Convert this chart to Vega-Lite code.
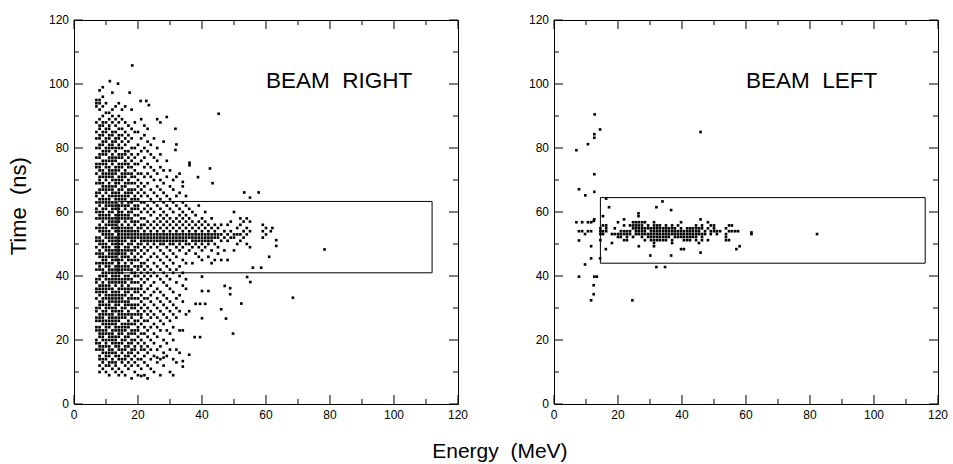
{"$schema":"https://vega.github.io/schema/vega-lite/v6.json",
"padding":{"left":7,"top":13,"right":5,"bottom":3},
"background":"white",
"config":{"view":{"stroke":"black","strokeWidth":1},"font":"Liberation Sans","rule":{"color":"black","strokeWidth":1},"text":{"color":"black","font":"Liberation Sans"}},
"datasets":{
"maj":[{"v":0},{"v":20},{"v":40},{"v":60},{"v":80},{"v":100},{"v":120}],
"mnr":[{"v":10},{"v":30},{"v":50},{"v":70},{"v":90},{"v":110}],
"br":[
{"e":7,"t":17},{"e":7,"t":19},{"e":7,"t":20},{"e":7,"t":23},{"e":7,"t":24},{"e":7,"t":26},{"e":7,"t":27},{"e":7,"t":29},{"e":7,"t":30},{"e":7,"t":33},{"e":7,"t":35},{"e":7,"t":36},{"e":7,"t":38},{"e":7,"t":39},{"e":7,"t":42},{"e":7,"t":44},{"e":7,"t":47},{"e":7,"t":49},{"e":7,"t":51},{"e":7,"t":52},{"e":7,"t":55},{"e":7,"t":58},{"e":7,"t":60},{"e":7,"t":61},{"e":7,"t":63},{"e":7,"t":65},{"e":7,"t":66},{"e":7,"t":69},{"e":7,"t":72},{"e":7,"t":74},{"e":7,"t":75},{"e":7,"t":77},{"e":7,"t":80},{"e":7,"t":83},{"e":7,"t":85},{"e":7,"t":88},{"e":7,"t":93},{"e":7,"t":94},{"e":7,"t":95},
{"e":8,"t":10},{"e":8,"t":12},{"e":8,"t":14},{"e":8,"t":15},{"e":8,"t":17},{"e":8,"t":18},{"e":8,"t":19},{"e":8,"t":21},{"e":8,"t":22},{"e":8,"t":23},{"e":8,"t":24},{"e":8,"t":26},{"e":8,"t":27},{"e":8,"t":28},{"e":8,"t":30},{"e":8,"t":31},{"e":8,"t":32},{"e":8,"t":34},{"e":8,"t":35},{"e":8,"t":36},{"e":8,"t":37},{"e":8,"t":39},{"e":8,"t":40},{"e":8,"t":42},{"e":8,"t":43},{"e":8,"t":44},{"e":8,"t":46},{"e":8,"t":47},{"e":8,"t":48},{"e":8,"t":50},{"e":8,"t":51},{"e":8,"t":52},{"e":8,"t":54},{"e":8,"t":55},{"e":8,"t":56},{"e":8,"t":58},{"e":8,"t":59},{"e":8,"t":60},{"e":8,"t":62},{"e":8,"t":63},{"e":8,"t":64},{"e":8,"t":66},{"e":8,"t":67},{"e":8,"t":69},{"e":8,"t":70},{"e":8,"t":71},{"e":8,"t":73},{"e":8,"t":74},{"e":8,"t":75},{"e":8,"t":77},{"e":8,"t":78},{"e":8,"t":80},{"e":8,"t":81},{"e":8,"t":83},{"e":8,"t":84},{"e":8,"t":86},{"e":8,"t":87},{"e":8,"t":89},{"e":8,"t":92},{"e":8,"t":94},{"e":8,"t":95},{"e":8,"t":98},
{"e":9,"t":11},{"e":9,"t":13},{"e":9,"t":14},{"e":9,"t":16},{"e":9,"t":17},{"e":9,"t":18},{"e":9,"t":20},{"e":9,"t":21},{"e":9,"t":22},{"e":9,"t":23},{"e":9,"t":25},{"e":9,"t":26},{"e":9,"t":27},{"e":9,"t":28},{"e":9,"t":29},{"e":9,"t":31},{"e":9,"t":32},{"e":9,"t":33},{"e":9,"t":35},{"e":9,"t":36},{"e":9,"t":37},{"e":9,"t":38},{"e":9,"t":40},{"e":9,"t":41},{"e":9,"t":42},{"e":9,"t":44},{"e":9,"t":45},{"e":9,"t":46},{"e":9,"t":47},{"e":9,"t":49},{"e":9,"t":50},{"e":9,"t":51},{"e":9,"t":53},{"e":9,"t":54},{"e":9,"t":55},{"e":9,"t":57},{"e":9,"t":58},{"e":9,"t":59},{"e":9,"t":60},{"e":9,"t":61},{"e":9,"t":63},{"e":9,"t":64},{"e":9,"t":65},{"e":9,"t":67},{"e":9,"t":68},{"e":9,"t":69},{"e":9,"t":71},{"e":9,"t":72},{"e":9,"t":73},{"e":9,"t":75},{"e":9,"t":76},{"e":9,"t":78},{"e":9,"t":79},{"e":9,"t":81},{"e":9,"t":82},{"e":9,"t":84},{"e":9,"t":85},{"e":9,"t":87},{"e":9,"t":88},{"e":9,"t":90},{"e":9,"t":93},{"e":9,"t":96},{"e":9,"t":99},
{"e":10,"t":10},{"e":10,"t":12},{"e":10,"t":14},{"e":10,"t":15},{"e":10,"t":16},{"e":10,"t":18},{"e":10,"t":19},{"e":10,"t":20},{"e":10,"t":22},{"e":10,"t":23},{"e":10,"t":24},{"e":10,"t":25},{"e":10,"t":26},{"e":10,"t":28},{"e":10,"t":29},{"e":10,"t":30},{"e":10,"t":31},{"e":10,"t":33},{"e":10,"t":34},{"e":10,"t":35},{"e":10,"t":36},{"e":10,"t":37},{"e":10,"t":39},{"e":10,"t":40},{"e":10,"t":41},{"e":10,"t":43},{"e":10,"t":44},{"e":10,"t":45},{"e":10,"t":46},{"e":10,"t":48},{"e":10,"t":49},{"e":10,"t":50},{"e":10,"t":52},{"e":10,"t":53},{"e":10,"t":54},{"e":10,"t":55},{"e":10,"t":56},{"e":10,"t":58},{"e":10,"t":59},{"e":10,"t":61},{"e":10,"t":62},{"e":10,"t":63},{"e":10,"t":64},{"e":10,"t":66},{"e":10,"t":67},{"e":10,"t":68},{"e":10,"t":70},{"e":10,"t":71},{"e":10,"t":72},{"e":10,"t":74},{"e":10,"t":75},{"e":10,"t":76},{"e":10,"t":78},{"e":10,"t":79},{"e":10,"t":80},{"e":10,"t":82},{"e":10,"t":83},{"e":10,"t":85},{"e":10,"t":86},{"e":10,"t":88},{"e":10,"t":91},{"e":10,"t":94},
{"e":11,"t":9},{"e":11,"t":12},{"e":11,"t":13},{"e":11,"t":15},{"e":11,"t":16},{"e":11,"t":17},{"e":11,"t":18},{"e":11,"t":20},{"e":11,"t":21},{"e":11,"t":22},{"e":11,"t":24},{"e":11,"t":25},{"e":11,"t":26},{"e":11,"t":27},{"e":11,"t":28},{"e":11,"t":30},{"e":11,"t":31},{"e":11,"t":32},{"e":11,"t":33},{"e":11,"t":34},{"e":11,"t":36},{"e":11,"t":37},{"e":11,"t":38},{"e":11,"t":39},{"e":11,"t":41},{"e":11,"t":42},{"e":11,"t":43},{"e":11,"t":44},{"e":11,"t":46},{"e":11,"t":47},{"e":11,"t":48},{"e":11,"t":49},{"e":11,"t":51},{"e":11,"t":52},{"e":11,"t":53},{"e":11,"t":54},{"e":11,"t":56},{"e":11,"t":57},{"e":11,"t":58},{"e":11,"t":59},{"e":11,"t":60},{"e":11,"t":62},{"e":11,"t":63},{"e":11,"t":64},{"e":11,"t":65},{"e":11,"t":67},{"e":11,"t":68},{"e":11,"t":69},{"e":11,"t":71},{"e":11,"t":72},{"e":11,"t":73},{"e":11,"t":74},{"e":11,"t":76},{"e":11,"t":77},{"e":11,"t":79},{"e":11,"t":80},{"e":11,"t":81},{"e":11,"t":83},{"e":11,"t":84},{"e":11,"t":86},{"e":11,"t":87},{"e":11,"t":89},{"e":11,"t":91},{"e":11.2,"t":100.9},
{"e":12,"t":11},{"e":12,"t":13},{"e":12,"t":14},{"e":12,"t":16},{"e":12,"t":17},{"e":12,"t":19},{"e":12,"t":20},{"e":12,"t":21},{"e":12,"t":22},{"e":12,"t":23},{"e":12,"t":25},{"e":12,"t":26},{"e":12,"t":27},{"e":12,"t":28},{"e":12,"t":29},{"e":12,"t":30},{"e":12,"t":32},{"e":12,"t":33},{"e":12,"t":34},{"e":12,"t":35},{"e":12,"t":36},{"e":12,"t":38},{"e":12,"t":39},{"e":12,"t":40},{"e":12,"t":41},{"e":12,"t":42},{"e":12,"t":44},{"e":12,"t":45},{"e":12,"t":46},{"e":12,"t":47},{"e":12,"t":48},{"e":12,"t":50},{"e":12,"t":51},{"e":12,"t":52},{"e":12,"t":53},{"e":12,"t":55},{"e":12,"t":56},{"e":12,"t":57},{"e":12,"t":58},{"e":12,"t":60},{"e":12,"t":61},{"e":12,"t":62},{"e":12,"t":63},{"e":12,"t":65},{"e":12,"t":66},{"e":12,"t":67},{"e":12,"t":68},{"e":12,"t":70},{"e":12,"t":71},{"e":12,"t":72},{"e":12,"t":73},{"e":12,"t":75},{"e":12,"t":76},{"e":12,"t":77},{"e":12,"t":78},{"e":12,"t":80},{"e":12,"t":81},{"e":12,"t":82},{"e":12,"t":84},{"e":12,"t":85},{"e":12,"t":88},{"e":12,"t":90},{"e":12,"t":92},{"e":12,"t":97.3},
{"e":13,"t":10},{"e":13,"t":12},{"e":13,"t":13},{"e":13,"t":15},{"e":13,"t":16},{"e":13,"t":18},{"e":13,"t":19},{"e":13,"t":20},{"e":13,"t":21},{"e":13,"t":23},{"e":13,"t":24},{"e":13,"t":25},{"e":13,"t":26},{"e":13,"t":27},{"e":13,"t":29},{"e":13,"t":30},{"e":13,"t":31},{"e":13,"t":32},{"e":13,"t":33},{"e":13,"t":34},{"e":13,"t":35},{"e":13,"t":37},{"e":13,"t":38},{"e":13,"t":39},{"e":13,"t":40},{"e":13,"t":41},{"e":13,"t":42},{"e":13,"t":43},{"e":13,"t":45},{"e":13,"t":46},{"e":13,"t":47},{"e":13,"t":48},{"e":13,"t":49},{"e":13,"t":50},{"e":13,"t":51},{"e":13,"t":52},{"e":13,"t":54},{"e":13,"t":55},{"e":13,"t":56},{"e":13,"t":57},{"e":13,"t":58},{"e":13,"t":59},{"e":13,"t":61},{"e":13,"t":62},{"e":13,"t":63},{"e":13,"t":64},{"e":13,"t":65},{"e":13,"t":66},{"e":13,"t":68},{"e":13,"t":69},{"e":13,"t":70},{"e":13,"t":72},{"e":13,"t":73},{"e":13,"t":74},{"e":13,"t":76},{"e":13,"t":77},{"e":13,"t":79},{"e":13,"t":80},{"e":13,"t":82},{"e":13,"t":83},{"e":13,"t":85},{"e":13,"t":87},{"e":13,"t":89},{"e":13,"t":93},{"e":13.75,"t":100.1},
{"e":14,"t":9},{"e":14,"t":11},{"e":14,"t":14},{"e":14,"t":15},{"e":14,"t":17},{"e":14,"t":18},{"e":14,"t":19},{"e":14,"t":21},{"e":14,"t":22},{"e":14,"t":23},{"e":14,"t":24},{"e":14,"t":26},{"e":14,"t":27},{"e":14,"t":28},{"e":14,"t":29},{"e":14,"t":31},{"e":14,"t":32},{"e":14,"t":33},{"e":14,"t":34},{"e":14,"t":35},{"e":14,"t":36},{"e":14,"t":38},{"e":14,"t":39},{"e":14,"t":40},{"e":14,"t":41},{"e":14,"t":42},{"e":14,"t":43},{"e":14,"t":44},{"e":14,"t":45},{"e":14,"t":47},{"e":14,"t":48},{"e":14,"t":49},{"e":14,"t":50},{"e":14,"t":51},{"e":14,"t":52},{"e":14,"t":53},{"e":14,"t":54},{"e":14,"t":55},{"e":14,"t":57},{"e":14,"t":58},{"e":14,"t":59},{"e":14,"t":60},{"e":14,"t":61},{"e":14,"t":62},{"e":14,"t":64},{"e":14,"t":65},{"e":14,"t":66},{"e":14,"t":67},{"e":14,"t":69},{"e":14,"t":70},{"e":14,"t":71},{"e":14,"t":73},{"e":14,"t":74},{"e":14,"t":75},{"e":14,"t":77},{"e":14,"t":78},{"e":14,"t":80},{"e":14,"t":81},{"e":14,"t":83},{"e":14,"t":84},{"e":14,"t":86},{"e":14,"t":88},{"e":14,"t":90},{"e":14,"t":94},
{"e":15,"t":10},{"e":15,"t":13},{"e":15,"t":14},{"e":15,"t":16},{"e":15,"t":17},{"e":15,"t":19},{"e":15,"t":20},{"e":15,"t":22},{"e":15,"t":23},{"e":15,"t":24},{"e":15,"t":25},{"e":15,"t":27},{"e":15,"t":28},{"e":15,"t":29},{"e":15,"t":30},{"e":15,"t":32},{"e":15,"t":33},{"e":15,"t":34},{"e":15,"t":36},{"e":15,"t":37},{"e":15,"t":38},{"e":15,"t":39},{"e":15,"t":41},{"e":15,"t":42},{"e":15,"t":43},{"e":15,"t":45},{"e":15,"t":46},{"e":15,"t":47},{"e":15,"t":48},{"e":15,"t":50},{"e":15,"t":51},{"e":15,"t":52},{"e":15,"t":53},{"e":15,"t":54},{"e":15,"t":55},{"e":15,"t":56},{"e":15,"t":58},{"e":15,"t":59},{"e":15,"t":60},{"e":15,"t":62},{"e":15,"t":63},{"e":15,"t":64},{"e":15,"t":65},{"e":15,"t":67},{"e":15,"t":68},{"e":15,"t":70},{"e":15,"t":71},{"e":15,"t":72},{"e":15,"t":74},{"e":15,"t":75},{"e":15,"t":77},{"e":15,"t":78},{"e":15,"t":80},{"e":15,"t":82},{"e":15,"t":84},{"e":15,"t":86},{"e":15,"t":89},{"e":15,"t":92},
{"e":16,"t":9},{"e":16,"t":12},{"e":16,"t":14},{"e":16,"t":15},{"e":16,"t":17},{"e":16,"t":18},{"e":16,"t":20},{"e":16,"t":21},{"e":16,"t":23},{"e":16,"t":24},{"e":16,"t":25},{"e":16,"t":27},{"e":16,"t":28},{"e":16,"t":30},{"e":16,"t":31},{"e":16,"t":32},{"e":16,"t":34},{"e":16,"t":35},{"e":16,"t":36},{"e":16,"t":38},{"e":16,"t":39},{"e":16,"t":40},{"e":16,"t":42},{"e":16,"t":43},{"e":16,"t":44},{"e":16,"t":46},{"e":16,"t":47},{"e":16,"t":48},{"e":16,"t":49},{"e":16,"t":51},{"e":16,"t":52},{"e":16,"t":53},{"e":16,"t":54},{"e":16,"t":55},{"e":16,"t":57},{"e":16,"t":58},{"e":16,"t":59},{"e":16,"t":61},{"e":16,"t":62},{"e":16,"t":64},{"e":16,"t":65},{"e":16,"t":66},{"e":16,"t":68},{"e":16,"t":69},{"e":16,"t":71},{"e":16,"t":72},{"e":16,"t":73},{"e":16,"t":75},{"e":16,"t":76},{"e":16,"t":78},{"e":16,"t":79},{"e":16,"t":81},{"e":16,"t":83},{"e":16,"t":85},{"e":16,"t":88},{"e":16,"t":93},
{"e":17,"t":11},{"e":17,"t":13},{"e":17,"t":15},{"e":17,"t":16},{"e":17,"t":18},{"e":17,"t":19},{"e":17,"t":21},{"e":17,"t":22},{"e":17,"t":24},{"e":17,"t":25},{"e":17,"t":26},{"e":17,"t":28},{"e":17,"t":29},{"e":17,"t":31},{"e":17,"t":32},{"e":17,"t":33},{"e":17,"t":35},{"e":17,"t":36},{"e":17,"t":37},{"e":17,"t":39},{"e":17,"t":40},{"e":17,"t":42},{"e":17,"t":43},{"e":17,"t":45},{"e":17,"t":46},{"e":17,"t":48},{"e":17,"t":49},{"e":17,"t":50},{"e":17,"t":52},{"e":17,"t":53},{"e":17,"t":54},{"e":17,"t":55},{"e":17,"t":56},{"e":17,"t":58},{"e":17,"t":59},{"e":17,"t":60},{"e":17,"t":62},{"e":17,"t":63},{"e":17,"t":65},{"e":17,"t":66},{"e":17,"t":67},{"e":17,"t":69},{"e":17,"t":70},{"e":17,"t":72},{"e":17,"t":74},{"e":17,"t":75},{"e":17,"t":77},{"e":17,"t":79},{"e":17,"t":82},{"e":17,"t":84},{"e":17,"t":87},{"e":17.4,"t":97.3},
{"e":18,"t":8},{"e":18,"t":12},{"e":18,"t":14},{"e":18,"t":16},{"e":18,"t":17},{"e":18,"t":19},{"e":18,"t":20},{"e":18,"t":22},{"e":18,"t":23},{"e":18,"t":25},{"e":18,"t":27},{"e":18,"t":28},{"e":18,"t":30},{"e":18,"t":31},{"e":18,"t":33},{"e":18,"t":34},{"e":18,"t":36},{"e":18,"t":38},{"e":18,"t":39},{"e":18,"t":41},{"e":18,"t":42},{"e":18,"t":44},{"e":18,"t":45},{"e":18,"t":47},{"e":18,"t":48},{"e":18,"t":50},{"e":18,"t":51},{"e":18,"t":52},{"e":18,"t":53},{"e":18,"t":54},{"e":18,"t":55},{"e":18,"t":57},{"e":18,"t":58},{"e":18,"t":60},{"e":18,"t":61},{"e":18,"t":63},{"e":18,"t":64},{"e":18,"t":66},{"e":18,"t":67},{"e":18,"t":69},{"e":18,"t":71},{"e":18,"t":72},{"e":18,"t":74},{"e":18,"t":76},{"e":18,"t":78},{"e":18,"t":80},{"e":18,"t":83},{"e":18,"t":86},{"e":18,"t":92},{"e":18.2,"t":105.8},
{"e":19,"t":10},{"e":19,"t":13},{"e":19,"t":15},{"e":19,"t":17},{"e":19,"t":18},{"e":19,"t":20},{"e":19,"t":22},{"e":19,"t":23},{"e":19,"t":25},{"e":19,"t":26},{"e":19,"t":28},{"e":19,"t":30},{"e":19,"t":31},{"e":19,"t":33},{"e":19,"t":35},{"e":19,"t":36},{"e":19,"t":38},{"e":19,"t":40},{"e":19,"t":41},{"e":19,"t":43},{"e":19,"t":45},{"e":19,"t":46},{"e":19,"t":48},{"e":19,"t":49},{"e":19,"t":51},{"e":19,"t":52},{"e":19,"t":53},{"e":19,"t":54},{"e":19,"t":56},{"e":19,"t":57},{"e":19,"t":59},{"e":19,"t":61},{"e":19,"t":62},{"e":19,"t":64},{"e":19,"t":65},{"e":19,"t":67},{"e":19,"t":69},{"e":19,"t":71},{"e":19,"t":73},{"e":19,"t":75},{"e":19,"t":77},{"e":19,"t":80},{"e":19,"t":85},{"e":19,"t":88},
{"e":20,"t":9},{"e":20,"t":12},{"e":20,"t":14},{"e":20,"t":16},{"e":20,"t":19},{"e":20,"t":21},{"e":20,"t":23},{"e":20,"t":24},{"e":20,"t":26},{"e":20,"t":28},{"e":20,"t":29},{"e":20,"t":31},{"e":20,"t":33},{"e":20,"t":35},{"e":20,"t":36},{"e":20,"t":38},{"e":20,"t":40},{"e":20,"t":42},{"e":20,"t":43},{"e":20,"t":45},{"e":20,"t":47},{"e":20,"t":49},{"e":20,"t":50},{"e":20,"t":52},{"e":20,"t":53},{"e":20,"t":54},{"e":20,"t":55},{"e":20,"t":57},{"e":20,"t":59},{"e":20,"t":61},{"e":20,"t":62},{"e":20,"t":64},{"e":20,"t":66},{"e":20,"t":68},{"e":20,"t":70},{"e":20,"t":72},{"e":20,"t":75},{"e":20,"t":78},{"e":20,"t":81},{"e":20,"t":85},{"e":20.8,"t":94.7},
{"e":21,"t":11},{"e":21,"t":14},{"e":21,"t":17},{"e":21,"t":18},{"e":21,"t":20},{"e":21,"t":22},{"e":21,"t":25},{"e":21,"t":27},{"e":21,"t":28},{"e":21,"t":30},{"e":21,"t":32},{"e":21,"t":34},{"e":21,"t":36},{"e":21,"t":37},{"e":21,"t":39},{"e":21,"t":41},{"e":21,"t":43},{"e":21,"t":44},{"e":21,"t":46},{"e":21,"t":48},{"e":21,"t":50},{"e":21,"t":51},{"e":21,"t":52},{"e":21,"t":53},{"e":21,"t":55},{"e":21,"t":56},{"e":21,"t":58},{"e":21,"t":60},{"e":21,"t":63},{"e":21,"t":65},{"e":21,"t":67},{"e":21,"t":69},{"e":21,"t":72},{"e":21,"t":76},{"e":21,"t":79},{"e":21,"t":83},{"e":21,"t":89},{"e":21,"t":8.75},
{"e":22,"t":9},{"e":22,"t":13},{"e":22,"t":15},{"e":22,"t":17},{"e":22,"t":19},{"e":22,"t":22},{"e":22,"t":24},{"e":22,"t":26},{"e":22,"t":29},{"e":22,"t":31},{"e":22,"t":33},{"e":22,"t":35},{"e":22,"t":38},{"e":22,"t":40},{"e":22,"t":42},{"e":22,"t":44},{"e":22,"t":47},{"e":22,"t":49},{"e":22,"t":51},{"e":22,"t":52},{"e":22,"t":53},{"e":22,"t":54},{"e":22,"t":56},{"e":22,"t":58},{"e":22,"t":61},{"e":22,"t":63},{"e":22,"t":66},{"e":22,"t":68},{"e":22,"t":71},{"e":22,"t":74},{"e":22,"t":77},{"e":22,"t":80},{"e":22,"t":84},{"e":22,"t":87},{"e":22.6,"t":94.7},
{"e":23,"t":8},{"e":23,"t":12},{"e":23,"t":16},{"e":23,"t":18},{"e":23,"t":21},{"e":23,"t":23},{"e":23,"t":26},{"e":23,"t":28},{"e":23,"t":30},{"e":23,"t":33},{"e":23,"t":36},{"e":23,"t":39},{"e":23,"t":41},{"e":23,"t":43},{"e":23,"t":45},{"e":23,"t":48},{"e":23,"t":50},{"e":23,"t":51},{"e":23,"t":52},{"e":23,"t":53},{"e":23,"t":55},{"e":23,"t":57},{"e":23,"t":60},{"e":23,"t":62},{"e":23,"t":65},{"e":23,"t":69},{"e":23,"t":72},{"e":23,"t":75},{"e":23,"t":79},{"e":23,"t":82},{"e":23,"t":86},{"e":23.4,"t":93.4},
{"e":24,"t":11},{"e":24,"t":14},{"e":24,"t":17},{"e":24,"t":20},{"e":24,"t":24},{"e":24,"t":27},{"e":24,"t":29},{"e":24,"t":32},{"e":24,"t":34},{"e":24,"t":37},{"e":24,"t":40},{"e":24,"t":42},{"e":24,"t":46},{"e":24,"t":49},{"e":24,"t":51},{"e":24,"t":52},{"e":24,"t":53},{"e":24,"t":54},{"e":24,"t":56},{"e":24,"t":59},{"e":24,"t":61},{"e":24,"t":64},{"e":24,"t":67},{"e":24,"t":71},{"e":24,"t":74},{"e":24,"t":78},{"e":24,"t":81},
{"e":25,"t":10},{"e":25,"t":15},{"e":25,"t":19},{"e":25,"t":22},{"e":25,"t":25},{"e":25,"t":28},{"e":25,"t":31},{"e":25,"t":35},{"e":25,"t":38},{"e":25,"t":41},{"e":25,"t":44},{"e":25,"t":47},{"e":25,"t":50},{"e":25,"t":51},{"e":25,"t":52},{"e":25,"t":53},{"e":25,"t":55},{"e":25,"t":57},{"e":25,"t":60},{"e":25,"t":63},{"e":25,"t":66},{"e":25,"t":70},{"e":25,"t":73},{"e":25,"t":77},{"e":25,"t":83},
{"e":26,"t":13},{"e":26,"t":17},{"e":26,"t":21},{"e":26,"t":24},{"e":26,"t":27},{"e":26,"t":30},{"e":26,"t":33},{"e":26,"t":36},{"e":26,"t":40},{"e":26,"t":43},{"e":26,"t":46},{"e":26,"t":49},{"e":26,"t":51},{"e":26,"t":52},{"e":26,"t":53},{"e":26,"t":54},{"e":26,"t":56},{"e":26,"t":58},{"e":26,"t":62},{"e":26,"t":65},{"e":26,"t":68},{"e":26,"t":72},{"e":26,"t":76},{"e":26,"t":80},{"e":26,"t":89},{"e":26,"t":14.5},
{"e":27,"t":9},{"e":27,"t":14},{"e":27,"t":18},{"e":27,"t":23},{"e":27,"t":26},{"e":27,"t":29},{"e":27,"t":32},{"e":27,"t":35},{"e":27,"t":39},{"e":27,"t":42},{"e":27,"t":45},{"e":27,"t":48},{"e":27,"t":50},{"e":27,"t":51},{"e":27,"t":52},{"e":27,"t":53},{"e":27,"t":55},{"e":27,"t":57},{"e":27,"t":59},{"e":27,"t":61},{"e":27,"t":64},{"e":27,"t":67},{"e":27,"t":70},{"e":27,"t":74},{"e":27,"t":78},{"e":27,"t":88},
{"e":28,"t":12},{"e":28,"t":16},{"e":28,"t":20},{"e":28,"t":25},{"e":28,"t":28},{"e":28,"t":31},{"e":28,"t":34},{"e":28,"t":38},{"e":28,"t":41},{"e":28,"t":44},{"e":28,"t":47},{"e":28,"t":50},{"e":28,"t":51},{"e":28,"t":52},{"e":28,"t":53},{"e":28,"t":54},{"e":28,"t":56},{"e":28,"t":58},{"e":28,"t":60},{"e":28,"t":63},{"e":28,"t":66},{"e":28,"t":69},{"e":28,"t":73},{"e":28,"t":82},{"e":28,"t":14.5},
{"e":29,"t":15},{"e":29,"t":19},{"e":29,"t":23},{"e":29,"t":27},{"e":29,"t":30},{"e":29,"t":33},{"e":29,"t":37},{"e":29,"t":40},{"e":29,"t":43},{"e":29,"t":46},{"e":29,"t":49},{"e":29,"t":51},{"e":29,"t":52},{"e":29,"t":53},{"e":29,"t":55},{"e":29,"t":57},{"e":29,"t":59},{"e":29,"t":62},{"e":29,"t":65},{"e":29,"t":71},{"e":29,"t":76},{"e":29,"t":89.7},
{"e":30,"t":10},{"e":30,"t":17},{"e":30,"t":22},{"e":30,"t":26},{"e":30,"t":29},{"e":30,"t":32},{"e":30,"t":36},{"e":30,"t":39},{"e":30,"t":42},{"e":30,"t":45},{"e":30,"t":48},{"e":30,"t":50},{"e":30,"t":51},{"e":30,"t":52},{"e":30,"t":53},{"e":30,"t":54},{"e":30,"t":56},{"e":30,"t":58},{"e":30,"t":61},{"e":30,"t":64},{"e":30,"t":68},{"e":30,"t":73},
{"e":31,"t":9},{"e":31,"t":14},{"e":31,"t":20},{"e":31,"t":24},{"e":31,"t":28},{"e":31,"t":31},{"e":31,"t":35},{"e":31,"t":41},{"e":31,"t":44},{"e":31,"t":47},{"e":31,"t":50},{"e":31,"t":51},{"e":31,"t":52},{"e":31,"t":53},{"e":31,"t":55},{"e":31,"t":57},{"e":31,"t":60},{"e":31,"t":63},{"e":31,"t":67},{"e":31,"t":70},{"e":31.7,"t":79.4},{"e":31.7,"t":86},
{"e":32,"t":13},{"e":32,"t":17},{"e":32,"t":27},{"e":32,"t":30},{"e":32,"t":33},{"e":32,"t":38},{"e":32,"t":42},{"e":32,"t":46},{"e":32,"t":49},{"e":32,"t":51},{"e":32,"t":52},{"e":32,"t":53},{"e":32,"t":54},{"e":32,"t":56},{"e":32,"t":58},{"e":32,"t":62},{"e":32,"t":65},{"e":32,"t":71},{"e":32,"t":81.1},
{"e":33,"t":16},{"e":33,"t":23},{"e":33,"t":29},{"e":33,"t":34},{"e":33,"t":40},{"e":33,"t":43},{"e":33,"t":48},{"e":33,"t":50},{"e":33,"t":51},{"e":33,"t":52},{"e":33,"t":53},{"e":33,"t":55},{"e":33,"t":57},{"e":33,"t":59},{"e":33,"t":61},{"e":33,"t":66},{"e":33,"t":72},
{"e":34,"t":13.4},{"e":34,"t":11.7},{"e":34,"t":23},{"e":34,"t":32},{"e":34,"t":37},{"e":34,"t":41},{"e":34,"t":45},{"e":34,"t":49},{"e":34,"t":51},{"e":34,"t":52},{"e":34,"t":53},{"e":34,"t":54},{"e":34,"t":56},{"e":34,"t":58},{"e":34,"t":60},{"e":34,"t":63},{"e":34,"t":68},{"e":34,"t":69.4},
{"e":35,"t":28},{"e":35,"t":36},{"e":35,"t":39},{"e":35,"t":44},{"e":35,"t":47},{"e":35,"t":50},{"e":35,"t":51},{"e":35,"t":52},{"e":35,"t":53},{"e":35,"t":55},{"e":35,"t":57},{"e":35,"t":59},{"e":35,"t":62},{"e":35,"t":65},
{"e":36,"t":15.4},{"e":36,"t":29},{"e":36,"t":48},{"e":36,"t":50},{"e":36,"t":52},{"e":36,"t":53},{"e":36,"t":54},{"e":36,"t":56},{"e":36,"t":58},{"e":36,"t":61},{"e":36.1,"t":75.4},{"e":36.1,"t":74.6},
{"e":37,"t":44},{"e":37,"t":49},{"e":37,"t":51},{"e":37,"t":52},{"e":37,"t":53},{"e":37,"t":55},{"e":37,"t":57},{"e":37,"t":60},{"e":37.7,"t":20.9},
{"e":38,"t":31.3},{"e":38,"t":47},{"e":38,"t":50},{"e":38,"t":51},{"e":38,"t":52},{"e":38,"t":53},{"e":38,"t":54},{"e":38,"t":56},{"e":38,"t":59},
{"e":39,"t":46},{"e":39,"t":49},{"e":39,"t":51},{"e":39,"t":52},{"e":39,"t":53},{"e":39,"t":55},{"e":39,"t":57},{"e":39,"t":62},{"e":38.75,"t":70.9},{"e":39.4,"t":20.9},{"e":39.4,"t":31.3},
{"e":40,"t":39.8},{"e":40,"t":35.3},{"e":40,"t":26.8},{"e":40,"t":45},{"e":40,"t":48},{"e":40,"t":50},{"e":40,"t":51},{"e":40,"t":52},{"e":40,"t":53},{"e":40,"t":54},{"e":40,"t":56},{"e":40,"t":58},
{"e":41,"t":31.3},{"e":41,"t":49},{"e":41,"t":51},{"e":41,"t":52},{"e":41,"t":53},{"e":41,"t":55},{"e":41,"t":57},{"e":41,"t":60},
{"e":42,"t":35.3},{"e":42,"t":46},{"e":42,"t":50},{"e":42,"t":51},{"e":42,"t":52},{"e":42,"t":53},{"e":42,"t":54},{"e":42,"t":56},{"e":42.5,"t":73.6},
{"e":43,"t":44},{"e":43,"t":48},{"e":43,"t":51},{"e":43,"t":52},{"e":43,"t":53},{"e":43,"t":55},{"e":43,"t":58},{"e":43.3,"t":69},
{"e":44,"t":45},{"e":44,"t":50},{"e":44,"t":52},{"e":44,"t":53},{"e":44,"t":54},{"e":44,"t":56},
{"e":45,"t":47},{"e":45,"t":49},{"e":45,"t":52},{"e":45,"t":53},{"e":45,"t":55},{"e":45.2,"t":90.7},
{"e":46,"t":29.6},{"e":46,"t":45},{"e":46,"t":51},{"e":46,"t":53},{"e":46,"t":56},
{"e":47,"t":48},{"e":47,"t":52},{"e":47,"t":54},{"e":47.1,"t":36.9},{"e":47.5,"t":26.7},
{"e":48,"t":45},{"e":48,"t":51},{"e":48,"t":53},{"e":48,"t":56},{"e":48.8,"t":36.2},{"e":48.8,"t":34.3},
{"e":49,"t":52},{"e":49,"t":54},{"e":49,"t":57},
{"e":50,"t":48},{"e":50,"t":52},{"e":50,"t":53},{"e":50,"t":60},{"e":49.7,"t":22},
{"e":51,"t":50},{"e":51,"t":53},{"e":51,"t":55},
{"e":52,"t":51},{"e":52,"t":53},{"e":52,"t":56},{"e":52,"t":58},{"e":52.3,"t":31.4},
{"e":53,"t":52},{"e":53,"t":54},{"e":53,"t":57},{"e":53.2,"t":66.1},
{"e":54,"t":50},{"e":54,"t":53},{"e":54,"t":55},{"e":54,"t":58},{"e":54.1,"t":39.7},
{"e":55,"t":49},{"e":55,"t":54},{"e":55,"t":57},{"e":55,"t":64.5},{"e":55.1,"t":38.1},
{"e":55.9,"t":42.6},{"e":57.7,"t":66.1},{"e":58.5,"t":42.6},
{"e":59,"t":52},{"e":59,"t":54},{"e":59,"t":56},{"e":60,"t":53},{"e":60,"t":55},{"e":61,"t":46},{"e":61.5,"t":54},{"e":62,"t":55},
{"e":63.2,"t":51.2},{"e":63.2,"t":49.4},{"e":68.4,"t":33.2},{"e":78.3,"t":48.3}
],
"bl":[
{"e":12.7,"t":90.5},{"e":14.4,"t":85.8},{"e":12.6,"t":84.3},{"e":12.6,"t":83.2},{"e":10.6,"t":81.2},{"e":7,"t":79.3},{"e":45.8,"t":85},{"e":12.6,"t":71.8},{"e":7.8,"t":67.1},{"e":12.6,"t":66.3},{"e":9.8,"t":65.2},{"e":16.3,"t":64.2},{"e":33.9,"t":63.3},{"e":17.2,"t":61.5},{"e":32,"t":61.5},{"e":36.6,"t":60.6},{"e":26.4,"t":59.6},{"e":26.4,"t":58.7},{"e":12.6,"t":57.7},{"e":15.3,"t":58.7},{"e":45.8,"t":57.7},
{"e":7,"t":56.8},{"e":8.8,"t":56.8},{"e":10.6,"t":56.8},{"e":11.6,"t":56.8},{"e":7.8,"t":54},{"e":8.8,"t":54},{"e":10.6,"t":54},{"e":11.6,"t":54},{"e":9.7,"t":53.1},{"e":7.8,"t":51.1},{"e":11.6,"t":49.3},{"e":16.2,"t":48.4},{"e":30.1,"t":46.4},{"e":36.6,"t":46.4},{"e":45.8,"t":47.3},{"e":32,"t":42.8},{"e":34.7,"t":42.8},{"e":57,"t":48.4},{"e":58,"t":49.3},{"e":61.7,"t":53.1},{"e":61.7,"t":53.6},{"e":82.2,"t":53.1},{"e":11.6,"t":45.5},{"e":14.4,"t":45.5},{"e":9.7,"t":43.6},{"e":7.8,"t":39.8},{"e":12.6,"t":39.8},{"e":13.4,"t":39.8},{"e":12.4,"t":37.1},{"e":12.4,"t":34.3},{"e":11.6,"t":32.4},{"e":24.5,"t":32.4},{"e":12.4,"t":57.2},
{"e":14.5,"t":51.2},{"e":14.5,"t":53.1},{"e":14.5,"t":54},{"e":14.5,"t":54.9},{"e":15.3,"t":53.1},{"e":15.3,"t":54},{"e":15.3,"t":55.8},{"e":16.3,"t":54},{"e":16.3,"t":54.9},{"e":16.3,"t":55.8},{"e":18.1,"t":50.3},{"e":18.1,"t":53.1},{"e":19,"t":53.1},{"e":19,"t":54.9},{"e":20,"t":53.1},{"e":20,"t":52.2},{"e":20,"t":56.8},{"e":20.9,"t":53.1},{"e":20.9,"t":54},{"e":20.9,"t":52.2},
{"e":21.9,"t":51.2},{"e":21.9,"t":53.1},{"e":21.9,"t":54},{"e":21.9,"t":55.8},{"e":21.9,"t":57.7},{"e":22.8,"t":51.2},{"e":22.8,"t":53.1},{"e":22.8,"t":52.2},{"e":22.8,"t":54},{"e":23.75,"t":53.1},{"e":23.75,"t":54},{"e":23.75,"t":55.8},{"e":24.7,"t":52.2},{"e":24.7,"t":54.9},{"e":24.7,"t":55.8},{"e":24.7,"t":56.8},
{"e":25.6,"t":53.1},{"e":25.6,"t":54},{"e":25.6,"t":54.9},{"e":25.6,"t":55.8},{"e":25.6,"t":56.8},{"e":26.5,"t":49.3},{"e":26.5,"t":54},{"e":26.5,"t":54.9},{"e":26.5,"t":55.8},{"e":26.5,"t":56.8},{"e":26.5,"t":53.1},{"e":27.5,"t":52.2},{"e":27.5,"t":53.1},{"e":27.5,"t":54},{"e":27.5,"t":54.9},{"e":27.5,"t":55.8},{"e":27.5,"t":56.8},
{"e":28.4,"t":51.2},{"e":28.4,"t":53.1},{"e":28.4,"t":54},{"e":28.4,"t":54.9},{"e":28.4,"t":56.8},{"e":29.4,"t":52.2},{"e":29.4,"t":53.1},{"e":29.4,"t":54.9},{"e":29.4,"t":55.8},{"e":30.3,"t":51.2},{"e":30.3,"t":52.2},{"e":30.3,"t":53.1},{"e":30.3,"t":54},{"e":30.3,"t":54.9},
{"e":31.25,"t":49.3},{"e":31.25,"t":50.3},{"e":31.25,"t":51.2},{"e":31.25,"t":52.2},{"e":31.25,"t":53.1},{"e":31.25,"t":54},{"e":31.25,"t":54.9},{"e":31.25,"t":55.8},{"e":31.25,"t":56.8},
{"e":32.2,"t":51.2},{"e":32.2,"t":52.2},{"e":32.2,"t":53.1},{"e":32.2,"t":54},{"e":32.2,"t":54.9},{"e":32.2,"t":55.8},{"e":33.1,"t":51.2},{"e":33.1,"t":52.2},{"e":33.1,"t":53.1},{"e":33.1,"t":54},{"e":33.1,"t":54.9},{"e":33.1,"t":55.8},
{"e":34.1,"t":51.2},{"e":34.1,"t":52.2},{"e":34.1,"t":53.1},{"e":34.1,"t":54},{"e":34.1,"t":54.9},{"e":35,"t":51.2},{"e":35,"t":52.2},{"e":35,"t":53.1},{"e":35,"t":54},{"e":35,"t":54.9},{"e":35,"t":55.8},{"e":35.9,"t":52.2},{"e":35.9,"t":53.1},{"e":35.9,"t":54},{"e":35.9,"t":54.9},
{"e":36.9,"t":51.2},{"e":36.9,"t":53.1},{"e":36.9,"t":54},{"e":36.9,"t":54.9},{"e":36.9,"t":55.8},{"e":36.9,"t":50.3},{"e":37.8,"t":52.2},{"e":37.8,"t":53.1},{"e":37.8,"t":54},{"e":37.8,"t":54.9},{"e":38.75,"t":52.2},{"e":38.75,"t":53.1},{"e":38.75,"t":54},{"e":38.75,"t":55.8},
{"e":39.7,"t":52.2},{"e":39.7,"t":53.1},{"e":39.7,"t":54},{"e":39.7,"t":54.9},{"e":39.7,"t":56.8},{"e":39.7,"t":48.4},{"e":40.6,"t":51.2},{"e":40.6,"t":52.2},{"e":40.6,"t":53.1},{"e":40.6,"t":54},{"e":40.6,"t":48.4},
{"e":41.6,"t":52.2},{"e":41.6,"t":53.1},{"e":41.6,"t":54},{"e":41.6,"t":54.9},{"e":41.6,"t":51.2},{"e":42.5,"t":51.2},{"e":42.5,"t":52.2},{"e":42.5,"t":53.1},{"e":42.5,"t":54},{"e":42.5,"t":54.9},{"e":43.4,"t":52.2},{"e":43.4,"t":53.1},{"e":43.4,"t":54},{"e":43.4,"t":54.9},
{"e":44.4,"t":51.2},{"e":44.4,"t":52.2},{"e":44.4,"t":53.1},{"e":44.4,"t":54},{"e":44.4,"t":54.9},{"e":44.4,"t":55.8},{"e":45.3,"t":53.1},{"e":45.3,"t":54},{"e":45.3,"t":54.9},{"e":45.3,"t":50.3},{"e":46.25,"t":51.2},{"e":46.25,"t":53.1},{"e":46.25,"t":54.9},{"e":46.25,"t":55.8},{"e":46.25,"t":52.2},
{"e":47.2,"t":54},{"e":47.2,"t":53.1},{"e":48.1,"t":51.2},{"e":48.1,"t":54.9},{"e":48.1,"t":56.8},{"e":49,"t":54},{"e":49,"t":53.1},{"e":49,"t":55.8},{"e":50,"t":54.9},{"e":50,"t":54},{"e":50,"t":55.8},{"e":50.9,"t":54},{"e":50.9,"t":53.1},{"e":51.9,"t":54},
{"e":53.75,"t":54.9},{"e":53.75,"t":53.1},{"e":53.75,"t":52.2},{"e":53.75,"t":51.2},{"e":54.7,"t":55.8},{"e":54.7,"t":51.2},{"e":54.7,"t":54},{"e":55.6,"t":55.8},{"e":55.6,"t":54},{"e":56.6,"t":54},{"e":57.5,"t":54}
]},
"bounds":"flush",
"spacing":96,
"hconcat":[
{"width":384,"height":384,
"layer":[
{"data":{"name":"br"},"mark":{"type":"square","size":7,"color":"black","opacity":1},
"encoding":{
"x":{"field":"e","type":"quantitative","scale":{"domain":[0,120],"nice":false,"zero":false},"axis":null},
"y":{"field":"t","type":"quantitative","scale":{"domain":[0,120],"nice":false,"zero":false},"axis":null}}},
{"data":{"values":[{"e1":13.7,"e2":111.9,"t1":41,"t2":63.3}]},"mark":{"type":"rect","fillOpacity":0,"stroke":"black","strokeWidth":1},
"encoding":{"x":{"field":"e1","type":"quantitative","axis":null},"x2":{"field":"e2"},"y":{"field":"t1","type":"quantitative","axis":null},"y2":{"field":"t2"}}},
{"data":{"values":[{"e":60,"t":98.6,"label":"BEAM\u00a0 RIGHT"}]},"mark":{"type":"text","align":"left","baseline":"alphabetic","fontSize":22.5},
"encoding":{"x":{"field":"e","type":"quantitative","axis":null},"y":{"field":"t","type":"quantitative","axis":null},"text":{"field":"label"}}},
{"data":{"name":"maj"},"mark":{"type":"text","align":"center","baseline":"top","dy":6,"fontSize":12},
"encoding":{"x":{"field":"v","type":"quantitative","axis":null},"y":{"datum":0,"type":"quantitative","axis":null},"text":{"field":"v","type":"quantitative"}}},
{"data":{"name":"maj"},"mark":{"type":"text","align":"right","baseline":"middle","dx":-5,"fontSize":12},
"encoding":{"y":{"field":"v","type":"quantitative","axis":null},"x":{"datum":0,"type":"quantitative","axis":null},"text":{"field":"v","type":"quantitative"}}},
{"data":{"values":[{"e":-15.1,"t":61.8,"label":"Time\u00a0 (ns)"}]},"mark":{"type":"text","align":"center","baseline":"alphabetic","angle":270,"fontSize":22},
"encoding":{"x":{"field":"e","type":"quantitative","scale":{"domain":[0,120],"nice":false,"zero":false},"axis":null},"y":{"field":"t","type":"quantitative","scale":{"domain":[0,120],"nice":false,"zero":false},"axis":null},"text":{"field":"label"}}},
{"data":{"values":[{"e":133.1,"t":-16.9,"label":"Energy\u00a0 (MeV)"}]},"mark":{"type":"text","align":"center","baseline":"alphabetic","fontSize":21},
"encoding":{"x":{"field":"e","type":"quantitative","scale":{"domain":[0,120],"nice":false,"zero":false},"axis":null},"y":{"field":"t","type":"quantitative","scale":{"domain":[0,120],"nice":false,"zero":false},"axis":null},"text":{"field":"label"}}},
{"data":{"name":"maj"},"mark":{"type":"rule","y2Offset":-9},"encoding":{"x":{"field":"v","type":"quantitative","axis":null},"y":{"datum":0,"type":"quantitative","axis":null},"y2":{"datum":0}}},
{"data":{"name":"mnr"},"mark":{"type":"rule","y2Offset":-5},"encoding":{"x":{"field":"v","type":"quantitative","axis":null},"y":{"datum":0,"type":"quantitative","axis":null},"y2":{"datum":0}}},
{"data":{"name":"maj"},"mark":{"type":"rule","y2Offset":9},"encoding":{"x":{"field":"v","type":"quantitative","axis":null},"y":{"datum":120,"type":"quantitative","axis":null},"y2":{"datum":120}}},
{"data":{"name":"mnr"},"mark":{"type":"rule","y2Offset":5},"encoding":{"x":{"field":"v","type":"quantitative","axis":null},"y":{"datum":120,"type":"quantitative","axis":null},"y2":{"datum":120}}},
{"data":{"name":"maj"},"mark":{"type":"rule","x2Offset":9},"encoding":{"y":{"field":"v","type":"quantitative","axis":null},"x":{"datum":0,"type":"quantitative","axis":null},"x2":{"datum":0}}},
{"data":{"name":"mnr"},"mark":{"type":"rule","x2Offset":5},"encoding":{"y":{"field":"v","type":"quantitative","axis":null},"x":{"datum":0,"type":"quantitative","axis":null},"x2":{"datum":0}}},
{"data":{"name":"maj"},"mark":{"type":"rule","x2Offset":-9},"encoding":{"y":{"field":"v","type":"quantitative","axis":null},"x":{"datum":120,"type":"quantitative","axis":null},"x2":{"datum":120}}},
{"data":{"name":"mnr"},"mark":{"type":"rule","x2Offset":-5},"encoding":{"y":{"field":"v","type":"quantitative","axis":null},"x":{"datum":120,"type":"quantitative","axis":null},"x2":{"datum":120}}}
]},
{"width":384,"height":384,
"layer":[
{"data":{"name":"bl"},"mark":{"type":"square","size":7,"color":"black","opacity":1},
"encoding":{
"x":{"field":"e","type":"quantitative","scale":{"domain":[0,120],"nice":false,"zero":false},"axis":null},
"y":{"field":"t","type":"quantitative","scale":{"domain":[0,120],"nice":false,"zero":false},"axis":null}}},
{"data":{"values":[{"e1":14.5,"e2":116,"t1":44,"t2":64.5}]},"mark":{"type":"rect","fillOpacity":0,"stroke":"black","strokeWidth":1},
"encoding":{"x":{"field":"e1","type":"quantitative","axis":null},"x2":{"field":"e2"},"y":{"field":"t1","type":"quantitative","axis":null},"y2":{"field":"t2"}}},
{"data":{"values":[{"e":60,"t":98.6,"label":"BEAM\u00a0 LEFT"}]},"mark":{"type":"text","align":"left","baseline":"alphabetic","fontSize":22.5},
"encoding":{"x":{"field":"e","type":"quantitative","axis":null},"y":{"field":"t","type":"quantitative","axis":null},"text":{"field":"label"}}},
{"data":{"name":"maj"},"mark":{"type":"text","align":"center","baseline":"top","dy":6,"fontSize":12},
"encoding":{"x":{"field":"v","type":"quantitative","axis":null},"y":{"datum":0,"type":"quantitative","axis":null},"text":{"field":"v","type":"quantitative"}}},
{"data":{"name":"maj"},"mark":{"type":"text","align":"right","baseline":"middle","dx":-5,"fontSize":12},
"encoding":{"y":{"field":"v","type":"quantitative","axis":null},"x":{"datum":0,"type":"quantitative","axis":null},"text":{"field":"v","type":"quantitative"}}},
{"data":{"name":"maj"},"mark":{"type":"rule","y2Offset":-9},"encoding":{"x":{"field":"v","type":"quantitative","axis":null},"y":{"datum":0,"type":"quantitative","axis":null},"y2":{"datum":0}}},
{"data":{"name":"mnr"},"mark":{"type":"rule","y2Offset":-5},"encoding":{"x":{"field":"v","type":"quantitative","axis":null},"y":{"datum":0,"type":"quantitative","axis":null},"y2":{"datum":0}}},
{"data":{"name":"maj"},"mark":{"type":"rule","y2Offset":9},"encoding":{"x":{"field":"v","type":"quantitative","axis":null},"y":{"datum":120,"type":"quantitative","axis":null},"y2":{"datum":120}}},
{"data":{"name":"mnr"},"mark":{"type":"rule","y2Offset":5},"encoding":{"x":{"field":"v","type":"quantitative","axis":null},"y":{"datum":120,"type":"quantitative","axis":null},"y2":{"datum":120}}},
{"data":{"name":"maj"},"mark":{"type":"rule","x2Offset":9},"encoding":{"y":{"field":"v","type":"quantitative","axis":null},"x":{"datum":0,"type":"quantitative","axis":null},"x2":{"datum":0}}},
{"data":{"name":"mnr"},"mark":{"type":"rule","x2Offset":5},"encoding":{"y":{"field":"v","type":"quantitative","axis":null},"x":{"datum":0,"type":"quantitative","axis":null},"x2":{"datum":0}}},
{"data":{"name":"maj"},"mark":{"type":"rule","x2Offset":-9},"encoding":{"y":{"field":"v","type":"quantitative","axis":null},"x":{"datum":120,"type":"quantitative","axis":null},"x2":{"datum":120}}},
{"data":{"name":"mnr"},"mark":{"type":"rule","x2Offset":-5},"encoding":{"y":{"field":"v","type":"quantitative","axis":null},"x":{"datum":120,"type":"quantitative","axis":null},"x2":{"datum":120}}}
]}
]}
